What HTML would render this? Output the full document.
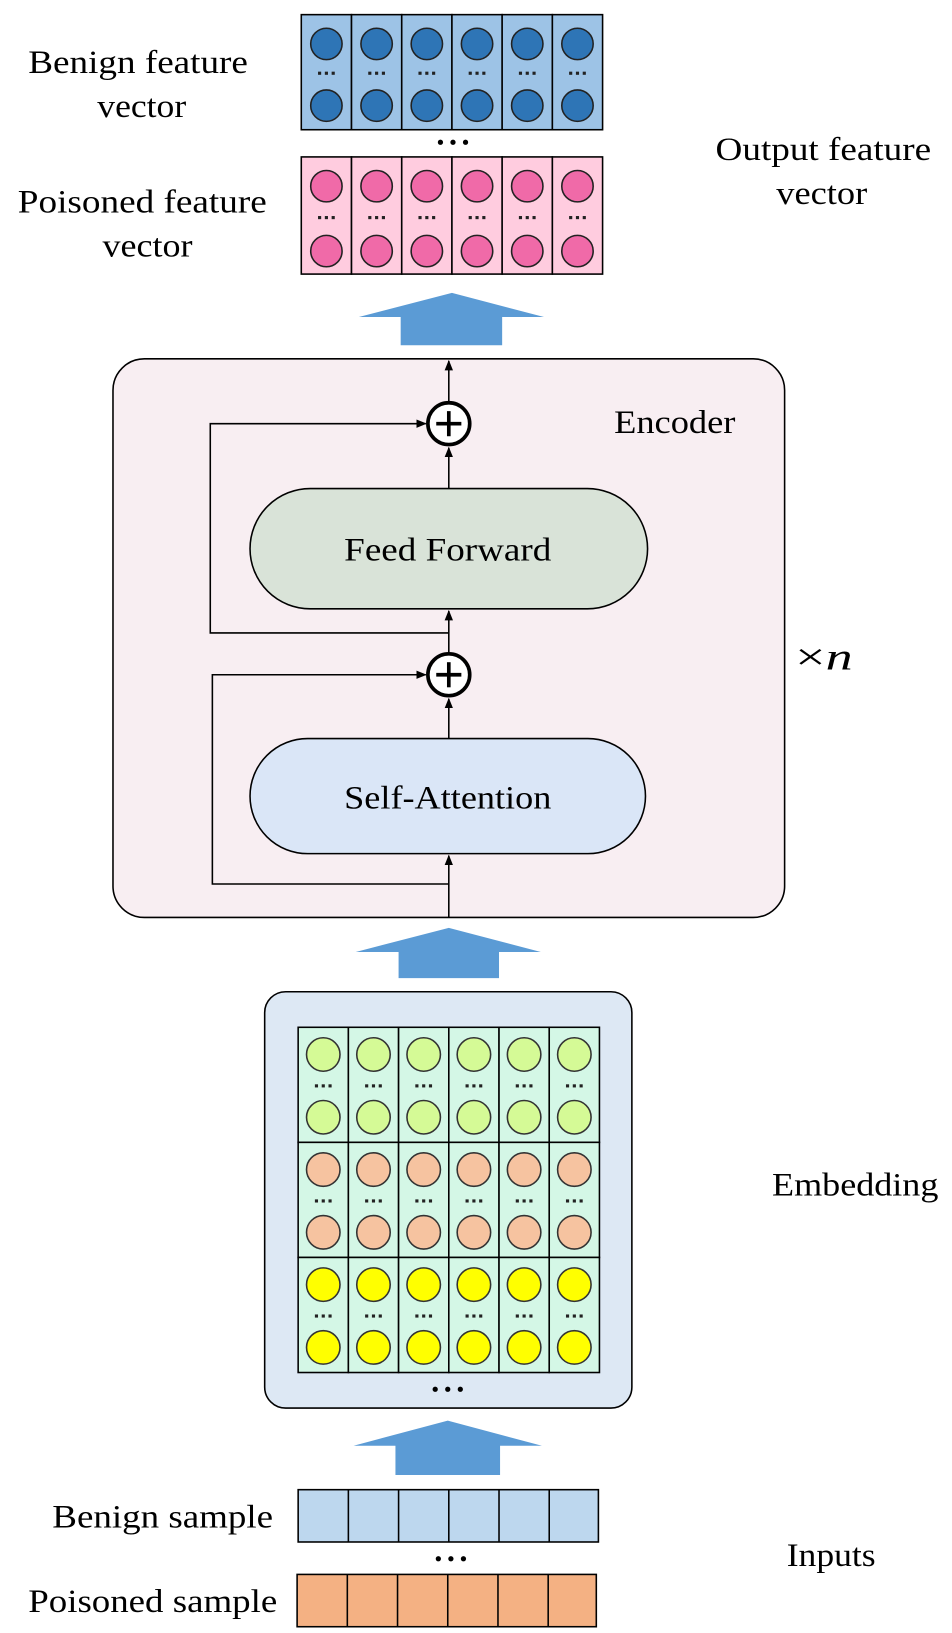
<!DOCTYPE html>
<html><head><meta charset="utf-8"><style>
html,body{margin:0;padding:0;background:#fff}
svg{display:block}
text{font-family:"Liberation Serif",serif;fill:#000}
</style></head><body>
<svg width="952" height="1633" viewBox="0 0 910 1561" preserveAspectRatio="none" xmlns="http://www.w3.org/2000/svg">
<defs>
<marker id="ah" markerWidth="10" markerHeight="10" refX="9" refY="5" orient="auto" markerUnits="userSpaceOnUse"><path d="M0,1 L10,5 L0,9 Z" fill="#000"/></marker>
<g id="dots"><rect x="16" y="-1.5" width="3" height="3"/><rect x="22.5" y="-1.5" width="3" height="3"/><rect x="29" y="-1.5" width="3" height="3"/></g>
<g id="bcol"><rect width="48" height="110" fill="#9dc3e6" stroke="#000" stroke-width="1.5"/><circle cx="24" cy="28" r="15" fill="#2e75b6" stroke="#222" stroke-width="1.5"/><circle cx="24" cy="87" r="15" fill="#2e75b6" stroke="#222" stroke-width="1.5"/><use href="#dots" y="56" fill="#222"/></g>
<g id="pcol"><rect width="48" height="112" fill="#ffccdf" stroke="#000" stroke-width="1.5"/><circle cx="24" cy="28" r="15" fill="#f06aa8" stroke="#222" stroke-width="1.5"/><circle cx="24" cy="90" r="15" fill="#f06aa8" stroke="#222" stroke-width="1.5"/><use href="#dots" y="58" fill="#222"/></g>
<g id="gcell"><rect width="48" height="110" fill="#d4f7e6" stroke="#000" stroke-width="1.5"/><circle cx="24" cy="26" r="16" fill="#d5fa96" stroke="#333" stroke-width="1.5"/><circle cx="24" cy="86" r="16" fill="#d5fa96" stroke="#333" stroke-width="1.5"/><use href="#dots" y="56" fill="#222"/></g>
<g id="ocell"><rect width="48" height="110" fill="#d4f7e6" stroke="#000" stroke-width="1.5"/><circle cx="24" cy="26" r="16" fill="#f6c3a0" stroke="#333" stroke-width="1.5"/><circle cx="24" cy="86" r="16" fill="#f6c3a0" stroke="#333" stroke-width="1.5"/><use href="#dots" y="56" fill="#222"/></g>
<g id="ycell"><rect width="48" height="110" fill="#d4f7e6" stroke="#000" stroke-width="1.5"/><circle cx="24" cy="26" r="16" fill="#ffff00" stroke="#333" stroke-width="1.5"/><circle cx="24" cy="86" r="16" fill="#ffff00" stroke="#333" stroke-width="1.5"/><use href="#dots" y="56" fill="#222"/></g>
<g id="bigdots" fill="#000"><circle cx="-12" cy="0" r="2.5"/><circle cx="0" cy="0" r="2.5"/><circle cx="12" cy="0" r="2.5"/></g>
</defs>

<use href="#bcol" x="288" y="14"/><use href="#bcol" x="336" y="14"/><use href="#bcol" x="384" y="14"/><use href="#bcol" x="432" y="14"/><use href="#bcol" x="480" y="14"/><use href="#bcol" x="528" y="14"/>
<use href="#bigdots" x="433" y="136"/>
<use href="#pcol" x="288" y="150"/><use href="#pcol" x="336" y="150"/><use href="#pcol" x="384" y="150"/><use href="#pcol" x="432" y="150"/><use href="#pcol" x="480" y="150"/><use href="#pcol" x="528" y="150"/>

<g font-size="31" lengthAdjust="spacingAndGlyphs">
<text x="27" y="70" textLength="210" lengthAdjust="spacingAndGlyphs">Benign feature</text>
<text x="93" y="112" textLength="85" lengthAdjust="spacingAndGlyphs">vector</text>
<text x="17" y="203" textLength="238" lengthAdjust="spacingAndGlyphs">Poisoned feature</text>
<text x="98" y="245" textLength="86" lengthAdjust="spacingAndGlyphs">vector</text>
<text x="684" y="153" textLength="206" lengthAdjust="spacingAndGlyphs">Output feature</text>
<text x="742" y="195" textLength="87" lengthAdjust="spacingAndGlyphs">vector</text>
</g>

<polygon points="432,280 520,303 480,303 480,330 383,330 383,303 343,303" fill="#5b9bd5"/>

<rect x="108" y="343" width="642" height="534" rx="30" fill="#f8eef2" stroke="#000" stroke-width="1.5"/>
<text x="587" y="414" font-size="31" textLength="116" lengthAdjust="spacingAndGlyphs">Encoder</text>
<text x="760" y="640" font-size="36" textLength="55" lengthAdjust="spacingAndGlyphs">×<tspan font-style="italic">n</tspan></text>

<g stroke="#000" stroke-width="1.5" fill="none">
<line x1="429" y1="877" x2="429" y2="818" marker-end="url(#ah)"/>
<line x1="429" y1="706" x2="429" y2="668" marker-end="url(#ah)"/>
<line x1="429" y1="625" x2="429" y2="584" marker-end="url(#ah)"/>
<line x1="429" y1="467" x2="429" y2="428" marker-end="url(#ah)"/>
<line x1="429" y1="385" x2="429" y2="345" marker-end="url(#ah)"/>
<polyline points="429,845 203,845 203,645 407,645" marker-end="url(#ah)"/>
<polyline points="429,605 201,605 201,405 407,405" marker-end="url(#ah)"/>
</g>
<g stroke="#000" stroke-width="3.5" fill="#fff">
<circle cx="429" cy="405" r="20"/>
<circle cx="429" cy="645" r="20"/>
</g>
<g stroke="#000" stroke-width="3.5">
<line x1="417" y1="405" x2="441" y2="405"/><line x1="429" y1="393" x2="429" y2="417"/>
<line x1="417" y1="645" x2="441" y2="645"/><line x1="429" y1="633" x2="429" y2="657"/>
</g>

<rect x="239" y="467" width="380" height="115" rx="57.5" fill="#d9e3d8" stroke="#000" stroke-width="1.5"/>
<text x="329" y="536" font-size="31" textLength="198" lengthAdjust="spacingAndGlyphs">Feed Forward</text>
<rect x="239" y="706" width="378" height="110" rx="55" fill="#dae6f7" stroke="#000" stroke-width="1.5"/>
<text x="329" y="773" font-size="31" textLength="198" lengthAdjust="spacingAndGlyphs">Self-Attention</text>

<polygon points="429,887 517,910 477,910 477,935 381,935 381,910 340,910" fill="#5b9bd5"/>

<rect x="253" y="948" width="351" height="398" rx="20" fill="#dde8f4" stroke="#000" stroke-width="1.5"/>
<use href="#gcell" x="285" y="982"/><use href="#gcell" x="333" y="982"/><use href="#gcell" x="381" y="982"/><use href="#gcell" x="429" y="982"/><use href="#gcell" x="477" y="982"/><use href="#gcell" x="525" y="982"/>
<use href="#ocell" x="285" y="1092"/><use href="#ocell" x="333" y="1092"/><use href="#ocell" x="381" y="1092"/><use href="#ocell" x="429" y="1092"/><use href="#ocell" x="477" y="1092"/><use href="#ocell" x="525" y="1092"/>
<use href="#ycell" x="285" y="1202"/><use href="#ycell" x="333" y="1202"/><use href="#ycell" x="381" y="1202"/><use href="#ycell" x="429" y="1202"/><use href="#ycell" x="477" y="1202"/><use href="#ycell" x="525" y="1202"/>
<use href="#bigdots" x="428" y="1328"/>
<text x="738" y="1143" font-size="31" textLength="159" lengthAdjust="spacingAndGlyphs">Embedding</text>

<polygon points="428,1358 518,1382 478,1382 478,1410 378,1410 378,1382 338,1382" fill="#5b9bd5"/>

<g stroke="#000" stroke-width="1.5">
<rect x="285" y="1424" width="287" height="50" fill="#bdd7ee"/>
<line x1="333" y1="1424" x2="333" y2="1474"/><line x1="381" y1="1424" x2="381" y2="1474"/><line x1="429" y1="1424" x2="429" y2="1474"/><line x1="477" y1="1424" x2="477" y2="1474"/><line x1="525" y1="1424" x2="525" y2="1474"/>
<rect x="284" y="1505" width="286" height="50" fill="#f4b183"/>
<line x1="332" y1="1505" x2="332" y2="1555"/><line x1="380" y1="1505" x2="380" y2="1555"/><line x1="428" y1="1505" x2="428" y2="1555"/><line x1="476" y1="1505" x2="476" y2="1555"/><line x1="524" y1="1505" x2="524" y2="1555"/>
</g>
<use href="#bigdots" x="431" y="1490"/>
<text x="50" y="1460" font-size="31" textLength="211" lengthAdjust="spacingAndGlyphs">Benign sample</text>
<text x="27" y="1541" font-size="31" textLength="238" lengthAdjust="spacingAndGlyphs">Poisoned sample</text>
<text x="752" y="1497" font-size="31" textLength="85" lengthAdjust="spacingAndGlyphs">Inputs</text>
</svg>
</body></html>
